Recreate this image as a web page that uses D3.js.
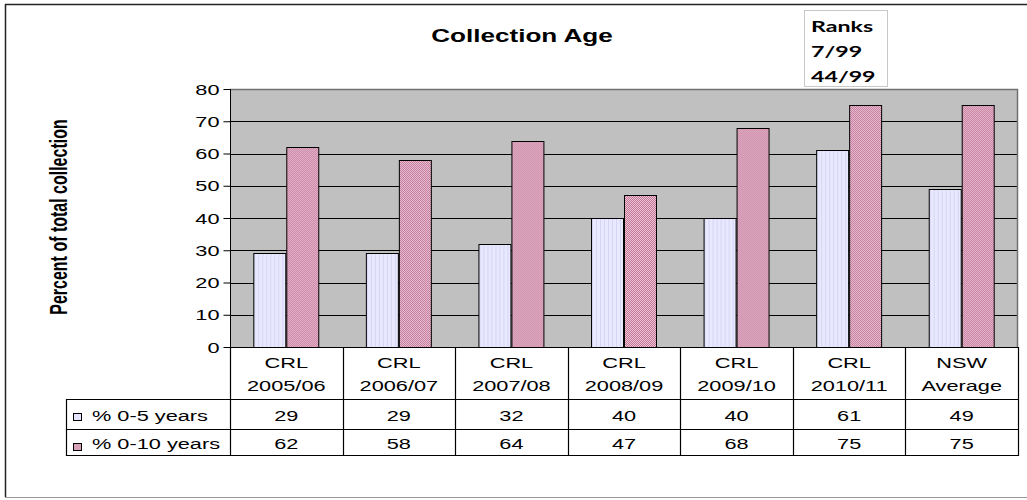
<!DOCTYPE html>
<html>
<head>
<meta charset="utf-8">
<script src="https://cdn.jsdelivr.net/npm/d3@7"></script>
<style>
  html, body { margin: 0; padding: 0; background: #fff; }
  svg { display: block; }
  text { font-family: "Liberation Sans", Arial, sans-serif; fill: #000; }
</style>
</head>
<body>
<svg id="chart" width="1027" height="500"></svg>
<script>
// Data
const categories = [["CRL", "2005/06"], ["CRL", "2006/07"], ["CRL", "2007/08"], ["CRL", "2008/09"],
                    ["CRL", "2009/10"], ["CRL", "2010/11"], ["NSW", "Average"]];
const seriesNames = ["% 0-5 years", "% 0-10 years"];
const years0to5 = [29, 29, 32, 40, 40, 61, 49];
const years0to10 = [62, 58, 64, 47, 68, 75, 75];
const yTicks = [0, 10, 20, 30, 40, 50, 60, 70, 80];
const chartTitle = "Collection Age";
const yLabel = "Percent of total collection";
const ranksLines = ["Ranks", "7/99", "44/99"];

const series = [years0to5, years0to10];
const catKeys = categories.map(c => c.join(" "));

const svg = d3.select("#chart");
const SX = 1.45; // horizontal stretch applied to all lettering

function stretchedText(parent, x, y, str, opts = {}) {
  return parent.append("text")
    .attr("transform", `translate(${x},${y}) scale(${SX},1)`)
    .attr("text-anchor", opts.anchor || "middle")
    .style("font-size", (opts.size || 15) + "px")
    .style("font-weight", opts.weight || "normal")
    .style("font-family", opts.family || null)
    .text(str);
}

// Fill patterns
const defs = svg.append("defs");
const pLight = defs.append("pattern").attr("id", "pLight")
  .attr("patternUnits", "userSpaceOnUse").attr("width", 4).attr("height", 4);
pLight.append("rect").attr("width", 4).attr("height", 4).attr("fill", "#e8e8ff");
pLight.append("rect").attr("x", 1).attr("width", 1).attr("height", 4).attr("fill", "#d6d6f4");

const pPink = defs.append("pattern").attr("id", "pPink")
  .attr("patternUnits", "userSpaceOnUse").attr("width", 2).attr("height", 2);
pPink.append("rect").attr("width", 2).attr("height", 2).attr("fill", "#eec6d8");
pPink.append("rect").attr("width", 1).attr("height", 1).attr("fill", "#c07496");
pPink.append("rect").attr("x", 1).attr("y", 1).attr("width", 1).attr("height", 1).attr("fill", "#c07496");
const fills = ["url(#pLight)", "url(#pPink)"];
const swatchFills = ["#e4e4fc", "#d9a0ba"];

// Outer chart frame
svg.append("line").attr("x1", 5).attr("x2", 1027).attr("y1", 4.5).attr("y2", 4.5)
  .attr("stroke", "#222").attr("stroke-width", 1.5);
svg.append("line").attr("x1", 5.5).attr("x2", 5.5).attr("y1", 4).attr("y2", 497)
  .attr("stroke", "#222").attr("stroke-width", 1.5);
svg.append("line").attr("x1", 5).attr("x2", 1027).attr("y1", 497.5).attr("y2", 497.5)
  .attr("stroke", "#9a9a9a").attr("stroke-width", 1);

// Plot geometry
const plot = { left: 230, right: 1018, top: 89, bottom: 347 };

const x = d3.scaleBand().domain(catKeys)
  .range([plot.left, plot.right]).paddingInner(0.414).paddingOuter(0.207);
const xs = d3.scaleBand().domain([0, 1]).range([0, x.bandwidth()]);
const y = d3.scaleLinear().domain([0, 80]).range([plot.bottom, plot.top]);

// Plot background
svg.append("rect")
  .attr("x", plot.left).attr("y", plot.top)
  .attr("width", plot.right - plot.left).attr("height", plot.bottom - plot.top)
  .attr("fill", "#c0c0c0");

// Gridlines
svg.append("g").selectAll("line").data(yTicks.filter(t => t > 0 && t < 80)).join("line")
  .attr("x1", plot.left).attr("x2", plot.right)
  .attr("y1", d => Math.round(y(d)) + 0.5).attr("y2", d => Math.round(y(d)) + 0.5)
  .attr("stroke", "#000").attr("stroke-width", 1);

// Plot border (top and right)
svg.append("path")
  .attr("d", `M${plot.left},${plot.top + 0.5}H${plot.right - 0.5}V${plot.bottom}`)
  .attr("fill", "none").attr("stroke", "#707070").attr("stroke-width", 1.5);

// Bars
const groups = svg.append("g").selectAll("g").data(catKeys).join("g")
  .attr("transform", d => `translate(${x(d)},0)`);
groups.selectAll("rect").data((d, i) => series.map((s, k) => ({ k, v: s[i] }))).join("rect")
  .attr("x", d => xs(d.k) + 0.5)
  .attr("y", d => Math.round(y(d.v)) + 0.5)
  .attr("width", xs.bandwidth() - 1)
  .attr("height", d => plot.bottom - Math.round(y(d.v)))
  .attr("fill", d => fills[d.k])
  .attr("stroke", "#000").attr("stroke-width", 1);

// Y axis
const yAxis = d3.axisLeft(y).tickValues(yTicks).tickSize(7).tickPadding(5).tickFormat(d3.format("d"));
const gy = svg.append("g").attr("transform", `translate(${plot.left + 0.5},0)`).call(yAxis);
gy.select(".domain").attr("stroke", "#000").attr("d", `M0,${plot.top}V${plot.bottom}`);
gy.selectAll(".tick line").attr("stroke", "#000").attr("x1", 0.5).attr("x2", -7);
gy.selectAll(".tick text").remove();
gy.selectAll(".tick").each(function (d) {
  stretchedText(d3.select(this), -11, 5, String(d), { anchor: "end", size: 15 });
});

// Data table
const table = svg.append("g");
const step = x.step();
const rowTop = plot.bottom, rowCat = 399, row1 = 429, rowEnd = 455;
const legendLeft = 66;
const lineStyle = sel => sel.attr("stroke", "#000").attr("stroke-width", 1.2);

// horizontal rules
table.append("line").attr("x1", plot.left).attr("x2", plot.right).attr("y1", rowTop + 0.5).attr("y2", rowTop + 0.5).call(lineStyle);
[rowCat, row1, rowEnd].forEach(yy => {
  table.append("line").attr("x1", legendLeft).attr("x2", plot.right)
    .attr("y1", yy + 0.5).attr("y2", yy + 0.5).call(lineStyle);
});
// vertical rules
d3.range(categories.length + 1).forEach(i => {
  const xx = Math.round(plot.left + i * step) + 0.5;
  table.append("line").attr("x1", xx).attr("x2", xx).attr("y1", rowTop).attr("y2", rowEnd + 1).call(lineStyle);
});
table.append("line").attr("x1", legendLeft + 0.5).attr("x2", legendLeft + 0.5)
  .attr("y1", rowCat).attr("y2", rowEnd + 1).call(lineStyle);

// category labels
categories.forEach((c, i) => {
  const cx = x(catKeys[i]) + x.bandwidth() / 2;
  stretchedText(table, cx, 368, c[0], { size: 15 });
  stretchedText(table, cx, 391, c[1], { size: 15 });
});

// value rows and legend keys
const rowBaselines = [421, 449];
const rowTops = [rowCat, row1];
series.forEach((s, k) => {
  s.forEach((v, i) => {
    const cx = x(catKeys[i]) + x.bandwidth() / 2;
    stretchedText(table, cx, rowBaselines[k], String(v), { size: 15 });
  });
  table.append("rect")
    .attr("x", 73.5).attr("y", rowTops[k] + 14.5)
    .attr("width", 8).attr("height", 7)
    .attr("fill", swatchFills[k]).attr("stroke", "#000").attr("stroke-width", 1);
  stretchedText(table, 92, rowBaselines[k], seriesNames[k], { anchor: "start", size: 15 });
});

// Title
stretchedText(svg, 522, 42, chartTitle, { size: 18, weight: "bold" });

// Y axis title
svg.append("text")
  .attr("transform", `translate(67,217) scale(${SX},1) rotate(-90)`)
  .attr("text-anchor", "middle")
  .style("font-size", "16px").style("font-weight", "bold")
  .text(yLabel);

// Ranks note box
const note = svg.append("g");
note.append("rect").attr("x", 804.5).attr("y", 10.5).attr("width", 83).attr("height", 76)
  .attr("fill", "#fff").attr("stroke", "#c8c8c8").attr("stroke-width", 1);
ranksLines.forEach((t, i) => {
  stretchedText(note, 811, 32 + i * 25, t, { anchor: "start", size: 16, weight: "bold", family: "Lato, 'Open Sans', sans-serif" });
});
</script>
</body>
</html>
